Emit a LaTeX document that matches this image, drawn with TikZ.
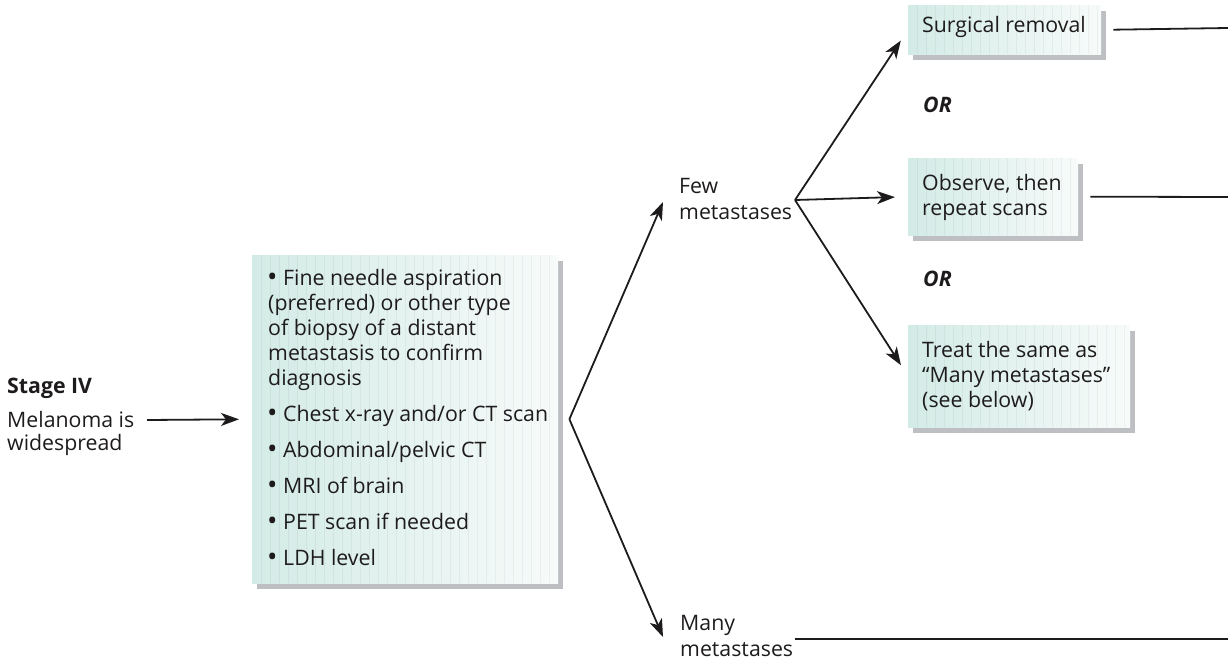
\documentclass[tikz,border=0pt]{standalone}
\usepackage{fontspec}
\setmainfont{Open Sans}
\usetikzlibrary{arrows.meta,shadows}

\definecolor{ink}{HTML}{1E1B1C}
\definecolor{panelL}{HTML}{D3EBE6}
\definecolor{panelR}{HTML}{F7FBFA}
\definecolor{panelshadow}{HTML}{BDBFC3}

% multi-line text whose baseline is that of its first line
\newcommand\rows[1]{\begin{tabular}[t]{@{}l@{}}#1\end{tabular}}
% one bulleted item with a hanging indent
\newcommand\bulletitem[1]{\hangindent=15pt\hangafter=1\noindent
  \makebox[15pt][l]{\hspace{-1pt}\raisebox{-1.7pt}{\scalebox{1.3}{\textbullet}}}#1\par}

\tikzset{
  panel/.style={draw=none, anchor=north west, inner sep=0pt,
    left color=panelL, right color=panelR,
    drop shadow={shadow xshift=5pt, shadow yshift=-6pt, fill=panelshadow, opacity=1},
    path picture={
      \foreach \k in {1,...,40}{
        \draw[black, opacity=0.045, line width=0.6pt]
          ([xshift=\k*9pt]path picture bounding box.south west) --
          ([xshift=\k*9pt]path picture bounding box.north west);
      }}},
  label text/.style={anchor=base west, inner sep=0pt, text=ink,
    font=\fontsize{21.3}{25}\selectfont},
  link/.style={line width=1.8pt, draw=ink},
  arrowlink/.style={link, -{Stealth[length=18pt,width=13pt,inset=5pt]}},
}

\begin{document}
\begin{tikzpicture}[x=1pt,y=-1pt]
\useasboundingbox (0,0) rectangle (1228,661);

% boxes
\node[panel, minimum width=306pt, minimum height=328pt] (testsbox) at (252,255) {};
\node[panel, minimum width=193pt, minimum height=49pt] (surgbox) at (908,5) {};
\node[panel, minimum width=170pt, minimum height=77pt] (obsbox) at (908,158) {};
\node[panel, minimum width=222pt, minimum height=102pt] (treatbox) at (908,325) {};

% texts
\node[label text] (stage) at (7,393) {\textbf{Stage IV}};
\node[label text, font=\fontsize{21.3}{23.5}\selectfont] (mel) at (7,427) {\rows{Melanoma is\\widespread}};
\node[label text] (tests) at (268,285) {\parbox[t]{290pt}{\raggedright\parskip=11pt
  \bulletitem{Fine needle aspiration\\(preferred) or other type\\of biopsy of a distant\\metastasis to confirm\\diagnosis}
  \bulletitem{Chest x-ray and/or CT scan}
  \bulletitem{Abdominal/pelvic CT}
  \bulletitem{MRI of brain}
  \bulletitem{PET scan if needed}
  \bulletitem{LDH level}}};
\node[label text, font=\fontsize{21.3}{26}\selectfont] (few) at (679,193) {\rows{Few\\metastases}};
\node[label text, font=\fontsize{21.3}{26}\selectfont] (many) at (680,630) {\rows{Many\\metastases}};
\node[label text] (surg) at (922,33) {Surgical removal};
\node[label text] (or1) at (923,112) {\textbf{\textit{OR}}};
\node[label text] (obs) at (922,190) {\rows{Observe, then\\repeat scans}};
\node[label text] (or2) at (923,286) {\textbf{\textit{OR}}};
\node[label text] (treat) at (922,357) {\rows{Treat the same as\\“Many metastases”\\(see below)}};

% branch points and free ends
\coordinate (melout) at (147,420);
\coordinate (v1) at ([xshift=11pt]testsbox.east);
\coordinate (fewtip) at (663,202);
\coordinate (manytip) at (663,637);
\coordinate (v2) at (795,200);
\coordinate (manyout) at (795,639);
\coordinate (surgend) at (1228,28);
\coordinate (obsend) at (1228,197);
\coordinate (manyend) at (1228,639);

% connectors
\draw[arrowlink, shorten >=13pt] (melout) -- (testsbox.west);
\draw[arrowlink] (v1) -- (fewtip);
\draw[arrowlink] (v1) -- (manytip);
\draw[arrowlink, shorten >=13pt] (v2) -- (surgbox.west);
\draw[arrowlink, shorten >=13pt] (v2) -- (obsbox.west);
\draw[arrowlink, shorten >=13pt] (v2) -- (treatbox.west);
\draw[link] ([xshift=12pt]surgbox.east) -- (surgend);
\draw[link] ([xshift=12pt]obsbox.east) -- (obsend);
\draw[link] (manyout) -- (manyend);
\end{tikzpicture}
\end{document}
